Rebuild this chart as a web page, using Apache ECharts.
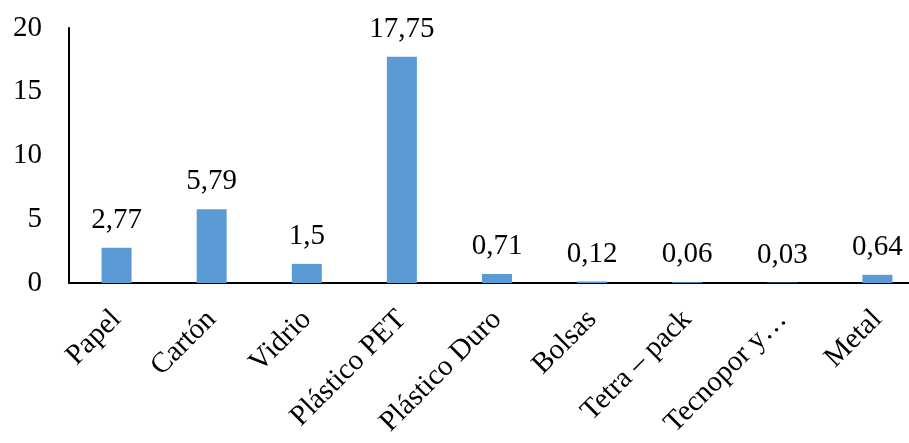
<!DOCTYPE html>
<html>
<head>
<meta charset="utf-8">
<script src="https://cdn.jsdelivr.net/npm/echarts@6/dist/echarts.min.js"></script>
<style>
html,body{margin:0;padding:0;background:#fff;}
#c{width:909px;height:443px;}
</style>
</head>
<body>
<div id="c"></div>
<script>
var categories = ['Papel', 'Cartón', 'Vidrio', 'Plástico PET', 'Plástico Duro', 'Bolsas', 'Tetra – pack', 'Tecnopor y…', 'Metal'];
var values = [2.77, 5.79, 1.5, 17.75, 0.71, 0.12, 0.06, 0.03, 0.64];
var yTicks = [0, 5, 10, 15, 20];

var font = '"Liberation Serif", "Times New Roman", serif';
var chart = echarts.init(document.getElementById('c'));
chart.setOption({
  animation: false,
  backgroundColor: '#fff',
  grid: { left: 69, top: 28, height: 255, width: 856, containLabel: false, outerBoundsMode: 'none' },
  xAxis: {
    type: 'category',
    data: categories,
    axisLine: { show: true, lineStyle: { color: '#000', width: 2 } },
    axisTick: { show: false },
    axisLabel: { rotate: 45, interval: 0, margin: 32, fontFamily: font, fontSize: 29, color: '#000' }
  },
  yAxis: {
    type: 'value',
    min: yTicks[0],
    max: yTicks[yTicks.length - 1],
    interval: 5,
    axisLine: { show: true, lineStyle: { color: '#000', width: 2 } },
    axisTick: { show: false },
    splitLine: { show: false },
    axisLabel: { margin: 27, fontFamily: font, fontSize: 29, color: '#000' }
  },
  series: [{
    type: 'bar',
    data: values,
    barWidth: 30,
    itemStyle: { color: '#5B9BD5' },
    label: {
      show: true,
      position: 'top',
      distance: 13,
      fontFamily: font,
      fontSize: 29,
      color: '#000',
      formatter: function (p) { return String(p.value).replace('.', ','); }
    }
  }]
});
</script>
</body>
</html>
